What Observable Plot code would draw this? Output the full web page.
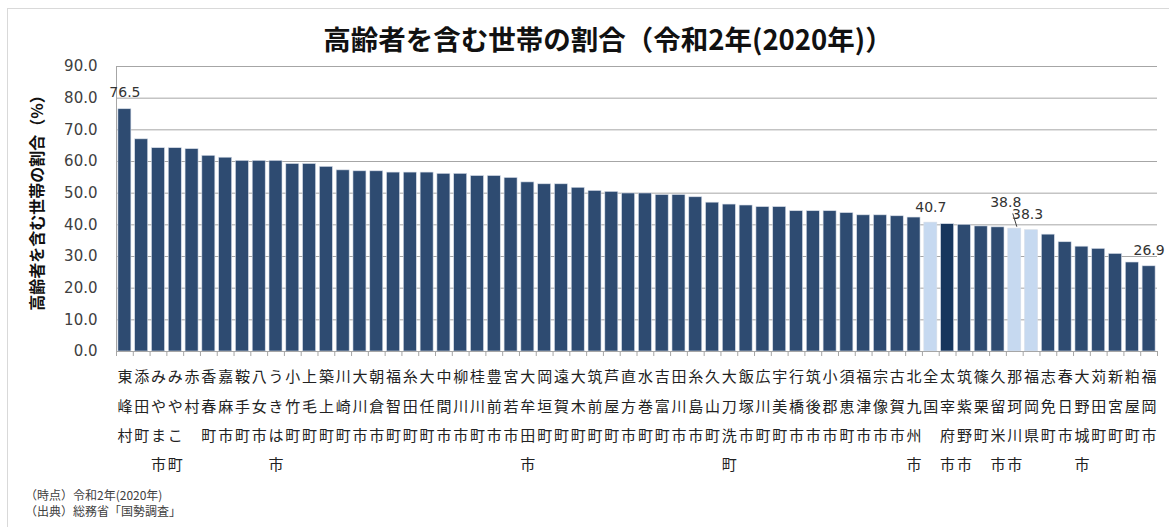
<!DOCTYPE html>
<html><head><meta charset="utf-8">
<script src="https://cdn.jsdelivr.net/npm/d3@7"></script>
<script src="https://cdn.jsdelivr.net/npm/@observablehq/plot@0.6"></script>
<style>
body{margin:0;background:#fff;font-family:"DejaVu Sans","Noto Sans CJK JP",sans-serif;}
#wrap{position:relative;width:1169px;height:527px;overflow:hidden;}
#frame{position:absolute;left:7px;top:8px;width:1400px;height:800px;border-left:1px solid #d9d9d9;border-top:1px solid #d9d9d9;}
#title{position:absolute;left:0;width:1216px;top:20px;text-align:center;font-family:"Noto Sans CJK JP",sans-serif;font-weight:bold;font-size:27.5px;line-height:36px;color:#111;}
#chart{position:absolute;left:0;top:0;}
#note{position:absolute;left:25px;top:487px;font-family:"Noto Sans CJK JP",sans-serif;font-size:12px;line-height:16px;color:#404040;}
</style></head>
<body><div id="wrap"><div id="frame"></div><div id="chart"></div><div id="title">高齢者を含む世帯の割合（令和2年(2020年)）</div>
<div id="note">（時点）令和2年(2020年)<br>（出典）総務省「国勢調査」</div></div>
<script>
const names = ["東峰村","添田町","みやま市","みやこ町","赤村","香春町","嘉麻市","鞍手町","八女市","うきは市","小竹町","上毛町","築上町","川崎町","大川市","朝倉市","福智町","糸田町","大任町","中間市","柳川市","桂川町","豊前市","宮若市","大牟田市","岡垣町","遠賀町","大木町","筑前町","芦屋町","直方市","水巻町","吉富町","田川市","糸島市","久山町","大刀洗町","飯塚市","広川町","宇美町","行橋市","筑後市","小郡市","須恵町","福津市","宗像市","古賀市","北九州市","全国","太宰府市","筑紫野市","篠栗町","久留米市","那珂川市","福岡県","志免町","春日市","大野城市","苅田町","新宮町","粕屋町","福岡市"];
const values = [76.5,67.0,64.2,64.2,63.9,61.8,61.2,60.2,60.2,60.2,59.2,59.2,58.3,57.2,56.9,56.9,56.5,56.5,56.5,56.1,56.1,55.4,55.4,54.8,53.4,52.8,52.8,51.7,50.7,50.4,49.9,49.9,49.4,49.4,48.7,47.0,46.4,46.1,45.6,45.6,44.3,44.3,44.3,43.7,43.0,43.0,42.7,42.3,40.7,40.2,40.0,39.5,39.2,38.8,38.3,36.9,34.5,33.1,32.4,30.8,28.1,26.9];
const lightNames = ["全国","那珂川市","福岡県"];
const darkNames = ["太宰府市"];
const labeledNames = ["東峰村","全国","那珂川市","福岡県","福岡市"];
const yTicks = [0,10,20,30,40,50,60,70,80,90];

const data = names.map((n,i)=>({name:n,i,value:values[i],
  kind: lightNames.includes(n) ? "light" : darkNames.includes(n) ? "dark" : "base"}));
const colorOf = {base:"#2E4B71", light:"#C6D9F0", dark:"#17365D"};
const labOffset = {"東峰村":[0,-17],"全国":[0,-15],"那珂川市":[-9,-26],"福岡県":[-4,-16],"福岡市":[0,-16]};
const labelMarks = labeledNames.map(n=>Plot.text(data.filter(d=>d.name===n),{x:d=>d.i+0.5,y:"value",text:d=>d.value.toFixed(1),
  dx:labOffset[n][0],dy:labOffset[n][1],fontSize:14,fill:"#333"}));
const leader = data.filter(d=>d.name==="那珂川市");

const plot = Plot.plot({
  width:1169, height:490,
  marginTop:66, marginBottom:139, marginLeft:116, marginRight:12,
  style:{fontFamily:'"DejaVu Sans","Noto Sans CJK JP",sans-serif', background:"transparent"},
  x:{domain:[0,names.length], axis:null},
  y:{domain:[0,90], axis:null},
  marks:[
    Plot.gridY(yTicks,{stroke:"#a6a6a6",strokeOpacity:1}),
    Plot.axisY(yTicks,{tickSize:0,tickPadding:19,fontSize:15,fill:"#404040",tickFormat:d=>d.toFixed(1),label:null}),
    Plot.text(["高齢者を含む世帯の割合（%）"],{frameAnchor:"left",textAnchor:"middle",dx:-79,dy:-10,rotate:-90,fontSize:16,fontWeight:"bold",fill:"#111",fontFamily:"Noto Sans CJK JP"}),
    Plot.rectY(data,{x1:"i",x2:d=>d.i+1,y:"value",insetLeft:1.9,insetRight:1.9,fill:d=>colorOf[d.kind],stroke:"#d6dde8",strokeWidth:0.6}),
    Plot.ruleX([0],{stroke:"#a6a6a6"}),
    Plot.ruleY([0],{stroke:"#a6a6a6"}),
    Plot.axisX(d3.range(names.length+1),{tickSize:5,stroke:"#a6a6a6",tickFormat:()=>"",label:null}),
    Plot.text(data,{x:d=>d.i+0.5,y:0,text:d=>d.name.split("").join("\n"),lineAnchor:"top",dy:10,lineHeight:1.95,fontSize:15,fill:"#222",fontFamily:"Noto Sans CJK JP"}),
    ...labelMarks,
    Plot.link(leader,{x1:d=>d.i+0.5-0.12,y1:d=>d.value+4.8,x2:d=>d.i+0.5+0.12,y2:d=>d.value+0.6,stroke:"#404040"})
  ]
});
document.getElementById("chart").appendChild(plot);
</script></body></html>
